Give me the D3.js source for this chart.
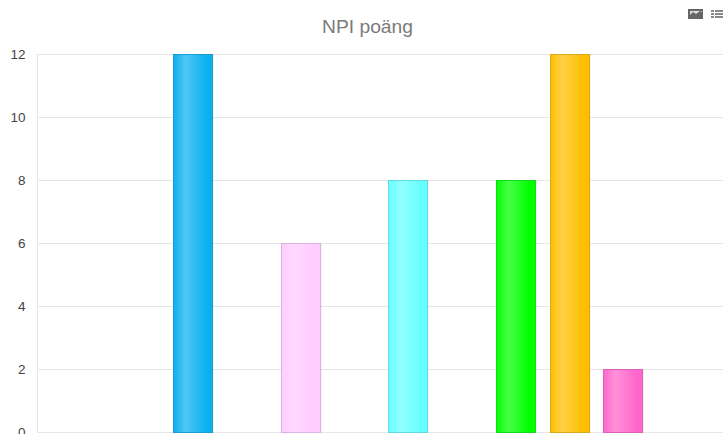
<!DOCTYPE html>
<html><head><meta charset="utf-8">
<script src="https://cdn.jsdelivr.net/npm/d3@7"></script>
<style>html,body{margin:0;padding:0;background:#fff;overflow:hidden}svg{display:block}</style>
</head><body><svg id="c" width="723" height="434"></svg>
<script>
const categories = ["1","2","3","4","5","6","7","8","9","10","11","12"];
const npiValues = [0,0,12,0,6,0,8,0,8,12,2,0];
const barColors = ["#0cb0f0","#0cb0f0","#0cb0f0","#ffccff","#ffccff","#66ffff","#66ffff","#00ff00","#00ff00","#ffbf00","#ff66cc","#ff66cc"];
const yTicks = [0,2,4,6,8,10,12];
const titleText = "NPI poäng";

const W=723,H=434,m={l:37,t:54,b:432};
const svg=d3.select("#c");
const defs=svg.append("defs");
const x=d3.scaleBand().domain(categories).range([58.5,704.1]).paddingInner(0).paddingOuter(0);
const y=d3.scaleLinear().domain([0,12]).range([m.b,m.t]);
const barW=39;

const grid=svg.append("g");
grid.selectAll("line").data(yTicks).join("line")
 .attr("x1",m.l).attr("x2",W).attr("y1",d=>y(d)+.5).attr("y2",d=>y(d)+.5)
 .attr("stroke","#e6e6e6");
grid.append("line").attr("x1",m.l+.5).attr("x2",m.l+.5).attr("y1",m.t).attr("y2",m.b).attr("stroke","#e6e6e6");

const axis=d3.axisLeft(y).tickValues(yTicks).tickSize(0).tickPadding(0);
const ag=svg.append("g").attr("transform","translate(25.5,0)").call(axis);
ag.select(".domain").remove();
ag.selectAll("text").attr("font-family","'Liberation Sans',Arial,sans-serif").attr("font-size",13.5).attr("fill","#444");
ag.selectAll("text").attr("dy","0.32em");

const rows=categories.map((c,i)=>({c,v:npiValues[i],col:barColors[i],i})).filter(d=>d.v>0);
rows.forEach(d=>{
 const g=defs.append("linearGradient").attr("id","g"+d.i).attr("x1",0).attr("x2",1).attr("y1",0).attr("y2",0);
 const base=d3.color(d.col), hi=d3.interpolateRgb(d.col,"#fff")(0.28);
 g.append("stop").attr("offset","0").attr("stop-color",base);
 g.append("stop").attr("offset","0.3").attr("stop-color",hi);
 g.append("stop").attr("offset","0.85").attr("stop-color",base);
 g.append("stop").attr("offset","1").attr("stop-color",base);
});
const left=d=>Math.floor(x(d.c)+x.bandwidth()/2-barW/2)+.5;
svg.append("g").selectAll("rect.s").data(rows).join("rect").attr("class","s")
 .attr("x",d=>left(d)+.5).attr("y",d=>y(d.v)).attr("width",barW+.5).attr("height",d=>m.b-y(d.v)+1)
 .attr("fill","#000").attr("opacity",.08);
svg.append("g").selectAll("rect.b").data(rows).join("rect").attr("class","b")
 .attr("x",left).attr("y",d=>y(d.v)+.5).attr("width",barW).attr("height",d=>m.b-y(d.v))
 .attr("fill",d=>`url(#g${d.i})`)
 .attr("stroke",d=>d3.interpolateRgb(d.col,"#557")(0.22)).attr("stroke-width",1);

svg.append("text").attr("x",322).attr("y",32.5)
 .attr("textLength",91).attr("lengthAdjust","spacingAndGlyphs")
 .attr("font-family","'Liberation Sans',Arial,sans-serif").attr("font-size",17.5).attr("fill","#7a7a7a").text(titleText);

// toolbar icons
const ic=svg.append("g").attr("fill","#666");
ic.append("rect").attr("x",688).attr("y",9).attr("width",15).attr("height",10).attr("fill","#666");
ic.append("path").attr("d","M690 15l3-3 3 2 4-3 2 1V11H690z").attr("fill","#ddd");
[10,13,16].forEach(v=>{
 ic.append("rect").attr("x",711).attr("y",v).attr("width",3).attr("height",2).attr("fill","#888");
 ic.append("rect").attr("x",715).attr("y",v).attr("width",8).attr("height",2).attr("fill","#888");
});
</script></body></html>
